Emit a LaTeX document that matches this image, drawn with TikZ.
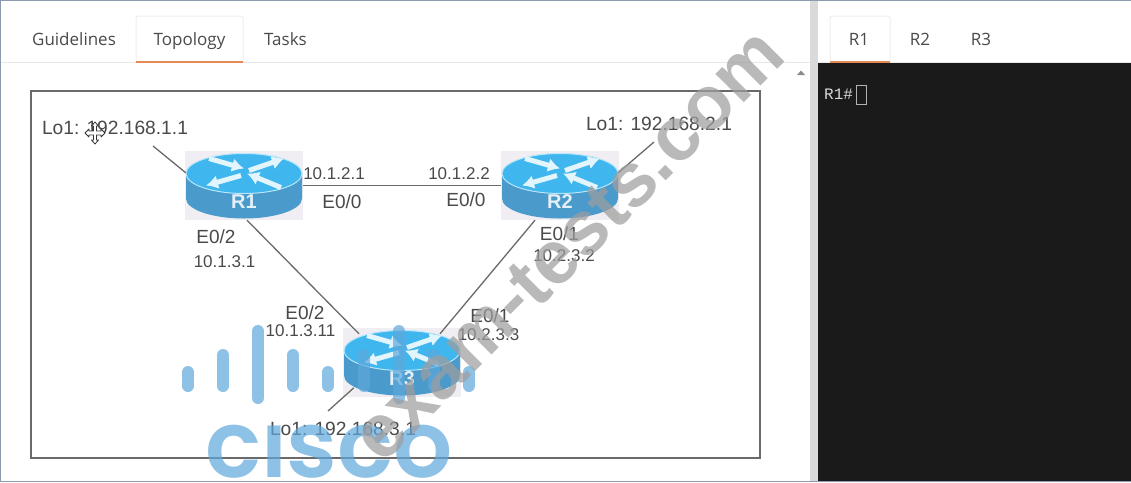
\documentclass[tikz,border=0pt]{standalone}
\usepackage{fontspec}
\setmainfont{Liberation Sans}
\newfontfamily\uifont{Open Sans}
\newfontfamily\logofont{Poppins SemiBold}
\newfontfamily\termfont{Liberation Mono}
\usetikzlibrary{arrows.meta}
\definecolor{inkgray}{HTML}{4A4A4A}
\definecolor{framegray}{HTML}{6A6A6A}
\definecolor{tabline}{HTML}{E8E8E8}
\definecolor{tabborder}{HTML}{F0EEEA}
\definecolor{orangeline}{HTML}{E58A55}
\definecolor{termbg}{HTML}{1A1A1A}
\definecolor{divider}{HTML}{DADADA}
\definecolor{routertop}{HTML}{3FB6EE}
\definecolor{routerside}{HTML}{4A9ACB}
\definecolor{routerbg}{HTML}{F0EEF2}
\definecolor{routeredge}{HTML}{B9E6FA}
\definecolor{logoblue}{HTML}{5FA8DC}
\definecolor{wmgray}{HTML}{9E9E9E}
\definecolor{edgeblue}{HTML}{8A9BAE}
\tikzset{
  tabtext/.style={font=\uifont\fontsize{17}{19}\selectfont,text=inkgray,inner sep=0pt,anchor=base},
  addr/.style={font=\fontsize{17}{19}\selectfont,text=inkgray,inner sep=0pt},
  port/.style={font=\fontsize{19}{21}\selectfont,text=inkgray,inner sep=0pt},
  loop/.style={font=\fontsize{19.2}{21}\selectfont,text=inkgray,inner sep=0pt},
  link/.style={draw=framegray,line width=1.3pt},
  routerbox/.style={fill=routerbg,draw=none,minimum width=118pt,minimum height=69pt,inner sep=0pt},
  routerarrow/.style={draw=white!85!routertop,line width=5pt,-{Latex[length=12pt,width=14pt]}},
  logobar/.style={line width=12pt,line cap=round,draw=logoblue,draw opacity=.7},
  watermark/.style={font=\bfseries\fontsize{76}{80}\selectfont,text=wmgray,text opacity=.72,rotate=45,inner sep=0pt},
}
\newcommand{\routerart}[4]{%
  \node[routerbox] (#3) at (#1,#2) {};
  \begin{scope}[shift={(#1,#2)}]
    \path[fill=routerside] (-58,-12) -- (-58,13) arc[x radius=58,y radius=20,start angle=180,end angle=0] -- (58,-12) -- cycle;
    \path[fill=routertop,draw=routeredge,line width=1pt] (0,-12) ellipse[x radius=58,y radius=20];
    \draw[routerarrow] (-35,-27) -- (0,-17);
    \draw[routerarrow] (5,-15) -- (40,-27);
    \draw[routerarrow] (-3,-10) -- (-38,0);
    \draw[routerarrow] (37,2) -- (3,-12);
    \node[font=\bfseries\fontsize{20}{22}\selectfont,text=white!85!routerside,inner sep=0pt] at (0,16) {#4};
  \end{scope}}
\begin{document}
\begin{tikzpicture}[x=1pt,y=-1pt]
\useasboundingbox (0,0) rectangle (1131,482);
\fill[white] (0,0) rectangle (1131,482);
% panels
\fill[termbg] (818,63) rectangle (1131,482);
\fill[divider] (810,0) rectangle (818,482);
\draw[tabline,line width=1pt] (0,62.5) -- (810,62.5);
\draw[tabline,line width=1pt] (818,62.5) -- (1131,62.5);
\fill[black!45] (797,75) -- (801,70.5) -- (805,75) -- cycle;
% tabs
\draw[tabborder,line width=1pt,rounded corners=2pt] (136,62) -- (136,16) -- (243,16) -- (243,62);
\draw[orangeline,line width=2pt] (136,62) -- (243,62);
\node[tabtext] (tabg) at (74,45) {Guidelines};
\node[tabtext] (tabt) at (189.5,45) {Topology};
\node[tabtext] (tabk) at (285.5,45) {Tasks};
\draw[tabborder,line width=1pt,rounded corners=2pt] (830,62) -- (830,16) -- (890,16) -- (890,62);
\draw[orangeline,line width=2pt] (830,62) -- (890,62);
\node[tabtext] (tabr1) at (859,45) {R1};
\node[tabtext] (tabr2) at (920,45) {R2};
\node[tabtext] (tabr3) at (981,45) {R3};
% terminal
\node[font=\termfont\fontsize{16}{18}\selectfont,text=black!15,inner sep=0pt,anchor=west] (prompt) at (824,94) {R1\#};
\draw[black!30,line width=1pt] (856.5,85.5) rectangle (866.5,104.5);
% frame
\draw[framegray,line width=2pt] (31,91) rectangle (760,458);
% routers
\routerart{244}{185.5}{r1}{R1}
\routerart{560}{185.5}{r2}{R2}
\routerart{402}{362.5}{r3}{R3}
% loopback and interface labels
\node[loop] (lo1) at (115,128) {Lo1: 192.168.1.1};
\node[loop] (lo2) at (659,124) {Lo1: 192.168.2.1};
\node[loop] (lo3) at (343,429) {Lo1: 192.168.3.1};
\node[addr] (a12) at (334,174) {10.1.2.1};
\node[port] (p12) at (342,202) {E0/0};
\node[addr] (a21) at (459,174) {10.1.2.2};
\node[port] (p21) at (466,200) {E0/0};
\node[port] (p13) at (216,237) {E0/2};
\node[addr] (a13) at (224.5,262) {10.1.3.1};
\node[port] (p31) at (305,313) {E0/2};
\node[addr] (a31) at (300.5,331) {10.1.3.11};
\node[port] (p23) at (559.5,234) {E0/1};
\node[addr] (a23) at (564,256) {10.2.3.2};
\node[port] (p32) at (490,316) {E0/1};
\node[addr] (a32) at (488.5,335) {10.2.3.3};
% connectors
\draw[link] ([shift={(38,11)}]lo1.south) -- ([shift={(1,22)}]r1.north west);
\draw[link] (r1.east) -- (r2.west);
\draw[link] ([shift={(3,0)}]r1.south) -- ([shift={(-43,6)}]r3.north);
\draw[link] ([shift={(-25,0)}]r2.south) -- ([shift={(38,6)}]r3.north);
\draw[link] ([shift={(-5,11)}]lo2.south) -- ([shift={(-1,22)}]r2.north east);
\draw[link] ([shift={(-15,-11)}]lo3.north) -- ([shift={(11,60)}]r3.north west);
% pointer
\begin{scope}[shift={(95,133)}]
  \draw[black!80,fill=white,line width=.8pt,line join=round]
    (0,-11) -- (3.5,-7) -- (1.5,-7) -- (1.5,-2) -- (6,-2) -- (6,-4) -- (10,0) -- (6,4) -- (6,2) -- (1.5,2) -- (1.5,7) -- (3.5,7) -- (0,11) -- (-3.5,7) -- (-1.5,7) -- (-1.5,2) -- (-6,2) -- (-6,4) -- (-10,0) -- (-6,-4) -- (-6,-2) -- (-1.5,-2) -- (-1.5,-7) -- (-3.5,-7) -- cycle;
\end{scope}
% logo
\draw[logobar] (188,372) -- (188,386);
\draw[logobar] (223,355) -- (223,386);
\draw[logobar] (258,331) -- (258,398);
\draw[logobar] (293,355) -- (293,386);
\draw[logobar] (328,372) -- (328,386);
\draw[logobar] (364,355) -- (364,386);
\draw[logobar] (399,331) -- (399,398);
\draw[logobar] (434,355) -- (434,386);
\draw[logobar] (469,372) -- (469,386);
\begin{scope}
  \clip (200,423) rectangle (460,482);
  \node[font=\logofont\fontsize{93}{95}\selectfont,text=logoblue,text opacity=.7,inner sep=0pt,anchor=base] (logo) at (329,477) {cisco};
\end{scope}
% watermark
\node[watermark] (wm) at (568,245) {exam-tests.com};
% image edges
\draw[edgeblue,line width=1.5pt] (0,0.5) -- (1131,0.5);
\draw[edgeblue,line width=1.5pt] (0,481.5) -- (1131,481.5);
\draw[edgeblue,line width=1pt] (0.5,0) -- (0.5,482);
\end{tikzpicture}
\end{document}
